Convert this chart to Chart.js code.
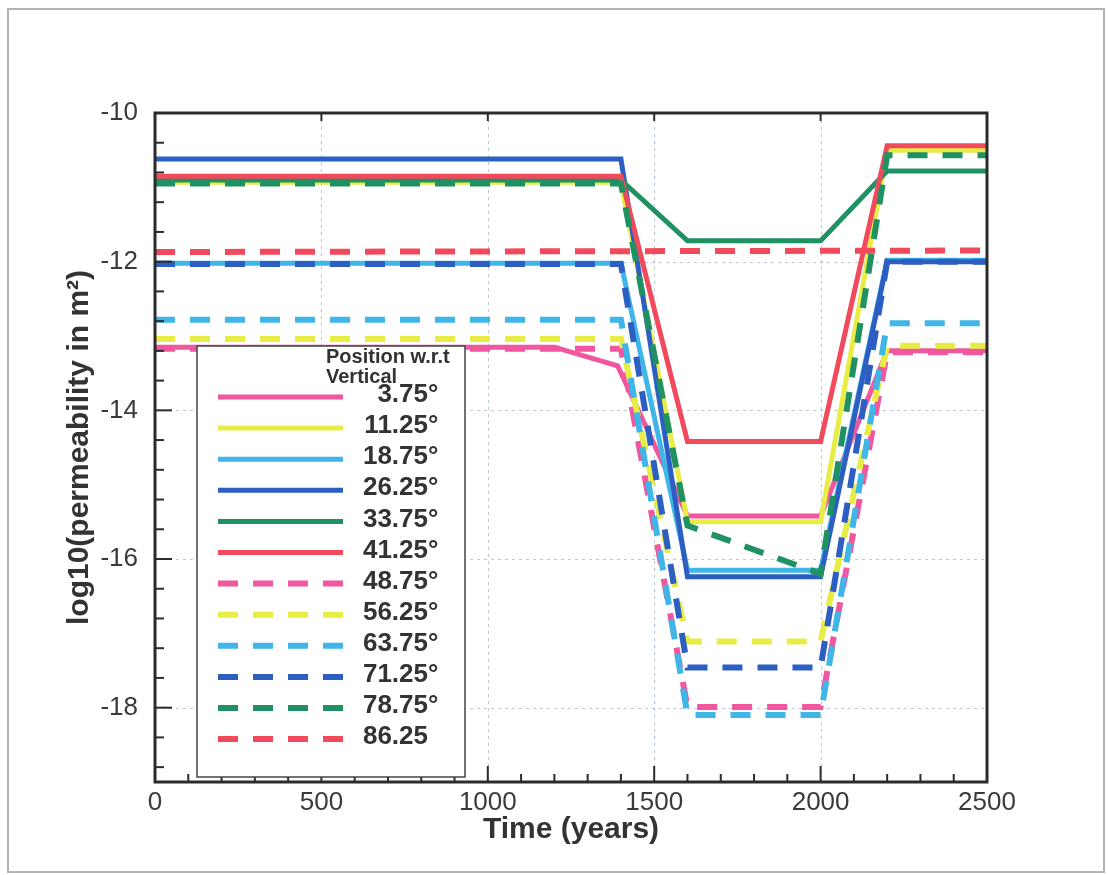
<!DOCTYPE html>
<html><head><meta charset="utf-8">
<script src="https://cdn.jsdelivr.net/npm/chart.js@4.4.1/dist/chart.umd.min.js"></script>
<style>html,body{margin:0;padding:0;background:#fff;}canvas{display:block;}</style>
</head><body>
<canvas id="c" width="1108" height="875"></canvas>
<script>
// ---- data ----
const timeStd  = [0, 1400, 1600, 2000, 2200, 2500];
const time375  = [0, 1200, 1390, 1600, 2000, 2200, 2500];
const timeFlat = [0, 2500];

const seriesLabels = ['3.75°','11.25°','18.75°','26.25°','33.75°','41.25°',
                      '48.75°','56.25°','63.75°','71.25°','78.75°','86.25'];

const k3_75  = [-13.15, -13.15, -13.40, -15.42, -15.42, -13.20, -13.20];
const k11_25 = [-10.93, -10.93, -15.50, -15.50, -10.50, -10.50];
const k18_75 = [-12.02, -12.02, -16.15, -16.15, -11.98, -11.98];
const k26_25 = [-10.62, -10.62, -16.24, -16.24, -12.00, -12.00];
const k33_75 = [-10.90, -10.90, -11.72, -11.72, -10.78, -10.78];
const k41_25 = [-10.85, -10.85, -14.42, -14.42, -10.44, -10.44];
const k48_75 = [-13.17, -13.17, -17.99, -17.99, -13.22, -13.22];
const k56_25 = [-13.04, -13.04, -17.11, -17.11, -13.13, -13.13];
const k63_75 = [-12.78, -12.78, -18.10, -18.10, -12.83, -12.83];
const k71_25 = [-12.03, -12.03, -17.46, -17.46, -12.00, -12.00];
const k78_75 = [-10.95, -10.95, -15.55, -16.20, -10.57, -10.57];
const k86_25 = [-11.87, -11.85];

const xTickValues = [0, 500, 1000, 1500, 2000, 2500];
const yTickValues = [-18, -16, -14, -12, -10];

// ---- styles ----
const PINK='#f0579f', YEL='#e8ed45', LBLUE='#3fb5e8', BLUE='#2d5ec2', GREEN='#1f9163', RED='#f14a5c';
const seriesDefs = [
  [time375, k3_75, PINK, false],
  [timeStd, k11_25, YEL, false],
  [timeStd, k18_75, LBLUE, false],
  [timeStd, k26_25, BLUE, false],
  [timeStd, k33_75, GREEN, false],
  [timeStd, k41_25, RED, false],
  [timeStd, k48_75, PINK, true],
  [timeStd, k56_25, YEL, true],
  [timeStd, k63_75, LBLUE, true],
  [timeStd, k71_25, BLUE, true],
  [timeStd, k78_75, GREEN, true],
  [timeFlat, k86_25, RED, true],
];
const DASH = [20, 15];

const datasets = seriesDefs.map(([t, v, col, dashed], i) => ({
  label: seriesLabels[i],
  data: t.map((tt, j) => ({x: tt, y: v[j]})),
  borderColor: col,
  backgroundColor: col,
  borderWidth: dashed ? 6 : 5,
  borderDash: dashed ? DASH : [],
  pointRadius: 0,
  fill: false,
  tension: 0,
  order: -i
}));

const FONT = "'Liberation Sans', Arial, sans-serif";

const decor = {
  id: 'decor',
  beforeDraw(chart) {
    const ctx = chart.ctx;
    ctx.save();
    ctx.fillStyle = '#fff';
    ctx.fillRect(0, 0, chart.width, chart.height);
    ctx.strokeStyle = '#b3b3b3';
    ctx.lineWidth = 2;
    ctx.strokeRect(8, 9, 1096, 863);
    ctx.restore();
  },
  beforeDatasetsDraw(chart) {
    const {ctx, chartArea: a, scales: {x, y}} = chart;
    ctx.save();
    ctx.strokeStyle = 'rgba(140,165,190,0.6)';
    ctx.lineWidth = 1;
    ctx.setLineDash([3, 4]);
    xTickValues.forEach(v => {
      const p = Math.round(x.getPixelForValue(v)) + 0.5;
      ctx.beginPath(); ctx.moveTo(p, a.top); ctx.lineTo(p, a.bottom); ctx.stroke();
    });
    yTickValues.forEach(v => {
      const p = Math.round(y.getPixelForValue(v)) + 0.5;
      ctx.beginPath(); ctx.moveTo(a.left, p); ctx.lineTo(a.right, p); ctx.stroke();
    });
    ctx.restore();
  },
  afterDatasetsDraw(chart) {
    const {ctx, chartArea: a, scales: {x, y}} = chart;
    ctx.save();
    ctx.strokeStyle = '#2b2b2b';
    ctx.lineWidth = 2;
    for (let v = x.min; v <= x.max + 1e-6; v += 100) {
      const p = x.getPixelForValue(v);
      const major = Math.abs(v % 500) < 1e-6;
      const len = major ? 16 : 8;
      ctx.beginPath(); ctx.moveTo(p, a.bottom); ctx.lineTo(p, a.bottom - len); ctx.stroke();
      if (major) { ctx.beginPath(); ctx.moveTo(p, a.top); ctx.lineTo(p, a.top + 8); ctx.stroke(); }
    }
    for (let i = 0; ; i++) {
      const v = -10 - i * 0.4;
      if (v < y.min - 1e-6) break;
      const p = y.getPixelForValue(v);
      const major = yTickValues.some(t => Math.abs(t - v) < 1e-6);
      const len = major ? 17 : 9;
      ctx.beginPath(); ctx.moveTo(a.left, p); ctx.lineTo(a.left + len, p); ctx.stroke();
    }
    ctx.lineWidth = 3;
    ctx.strokeRect(a.left, a.top, a.right - a.left, a.bottom - a.top);

    // legend box
    const bx = 197, by = 346, bw = 268, bh = 431;
    ctx.fillStyle = '#fff';
    ctx.fillRect(bx, by, bw, bh);
    ctx.lineWidth = 1.5;
    ctx.strokeStyle = '#444';
    ctx.strokeRect(bx, by, bw, bh);
    ctx.fillStyle = '#333';
    ctx.font = 'bold 20px ' + FONT;
    ctx.textAlign = 'left';
    ctx.textBaseline = 'alphabetic';
    ctx.fillText('Position w.r.t', 326, 363);
    ctx.fillText('Vertical', 326, 383);
    ctx.font = 'bold 26px ' + FONT;
    chart.data.datasets.forEach((ds, i) => {
      const cy = 397 + i * 31.1;
      ctx.save();
      ctx.strokeStyle = ds.borderColor;
      ctx.lineWidth = ds.borderWidth;
      ctx.setLineDash(ds.borderDash || []);
      ctx.beginPath(); ctx.moveTo(218, cy); ctx.lineTo(343, cy); ctx.stroke();
      ctx.restore();
      let rx = 428;
      if (ds.label.endsWith('°')) rx += ctx.measureText('°').width;
      ctx.textAlign = 'right';
      ctx.textBaseline = 'middle';
      ctx.fillStyle = '#333';
      ctx.fillText(ds.label, rx, cy - 2);
    });
    ctx.restore();
  }
};

new Chart(document.getElementById('c'), {
  type: 'line',
  data: { datasets },
  options: {
    responsive: false,
    animation: false,
    devicePixelRatio: 1,
    layout: { padding: { left: 0, top: 113, right: 121, bottom: 0 } },
    plugins: { legend: { display: false }, tooltip: { enabled: false } },
    scales: {
      x: {
        type: 'linear', min: 0, max: 2500,
        afterBuildTicks: s => { s.ticks = xTickValues.map(v => ({value: v})); },
        afterFit: s => { s.height = 875 - 782; },
        grid: { display: false },
        border: { display: false },
        ticks: { font: { family: FONT, size: 26 }, color: '#3a3a3a', padding: -3, maxRotation: 0, autoSkip: false,
                 callback: v => String(v) },
        title: { display: true, text: 'Time (years)', color: '#333',
                 font: { family: FONT, size: 30, weight: 'bold' }, padding: { top: 0, bottom: 27 } }
      },
      y: {
        type: 'linear', min: -19, max: -10,
        afterBuildTicks: s => { s.ticks = yTickValues.map(v => ({value: v})); },
        afterFit: s => { s.width = 155; },
        grid: { display: false },
        border: { display: false },
        ticks: { font: { family: FONT, size: 26 }, color: '#3a3a3a', padding: 9, callback: v => String(v) },
        title: { display: true, text: 'log10(permeability in m²)', color: '#333',
                 font: { family: FONT, size: 30, weight: 'bold' }, padding: { top: 62, bottom: 0 } }
      }
    }
  },
  plugins: [decor]
});
</script>
</body></html>
